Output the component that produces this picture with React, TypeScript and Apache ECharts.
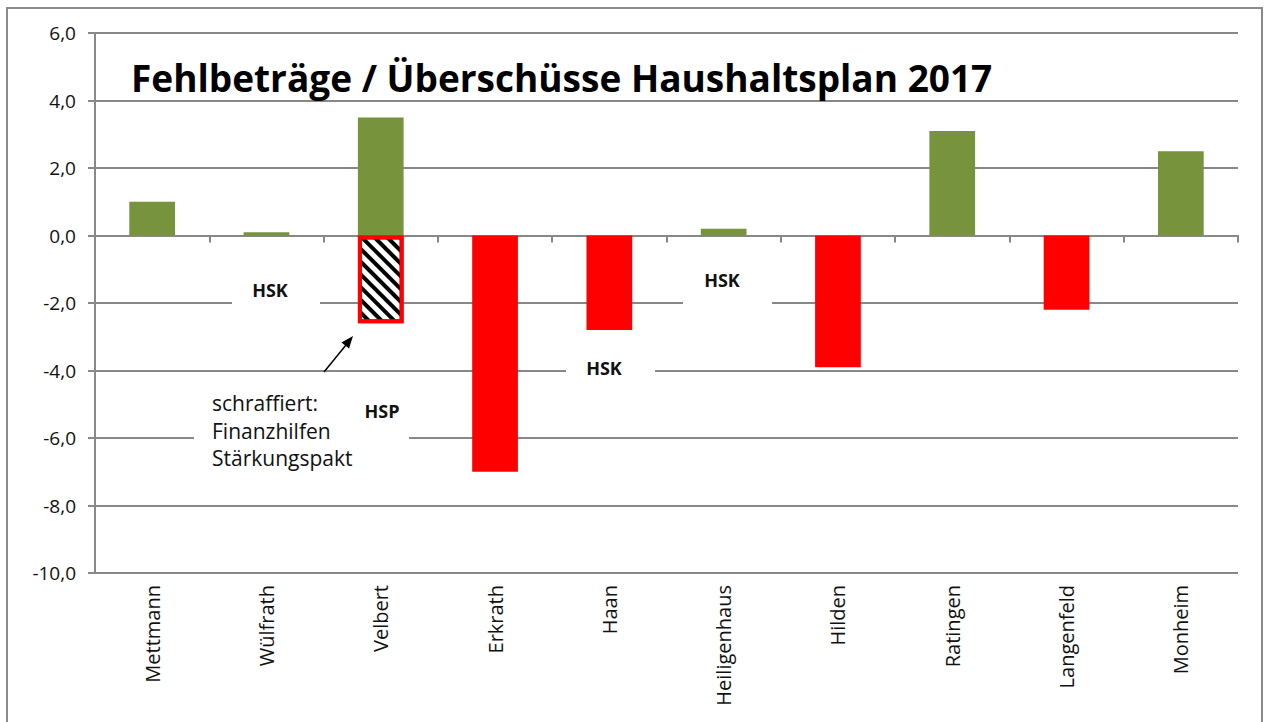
import React, { useEffect, useRef } from 'react';
import * as echarts from 'echarts';

const categories = ['Mettmann', 'Wülfrath', 'Velbert', 'Erkrath', 'Haan', 'Heiligenhaus', 'Hilden', 'Ratingen', 'Langenfeld', 'Monheim'];
const surplus = [1.0, 0.1, 3.5, null, null, 0.2, null, 3.1, null, 2.5];
const deficit = [null, null, null, -7.0, -2.8, null, -3.9, null, -2.2, null];
const hspDeficit = [null, null, -2.6, null, null, null, null, null, null, null];
const yMin = -10;
const yMax = 6;
const yInterval = 2;
const titleText = 'Fehlbeträge / Überschüsse Haushaltsplan 2017';
const noteLines = ['schraffiert:', 'Finanzhilfen', 'Stärkungspakt'];

const GRAY = '#888888';
const FONT = '"Open Sans"';

export default function App() {
  const ref = useRef<HTMLDivElement>(null);
  useEffect(() => {
    const chart = echarts.init(ref.current!, null, { renderer: 'svg' });
    const labelBox = (x: number, y: number, w: number, h: number) => ({
      type: 'rect', shape: { x, y, width: w, height: h }, style: { fill: '#fff' }, z: 10,
    });
    const boldText = (text: string, x: number, y: number) => ({
      type: 'text', x, y, z: 11,
      style: { text, fill: '#111', font: `bold 18px ${FONT}`, align: 'center', verticalAlign: 'middle' },
    });
    chart.setOption({
      animation: false,
      backgroundColor: '#fff',
      grid: { left: 95, right: 28, top: 33, bottom: 149, containLabel: false },
      xAxis: [
        {
          type: 'category', data: categories, position: 'bottom',
          axisLine: { onZero: true, lineStyle: { color: GRAY, width: 2 } },
          axisTick: { show: true, length: 7, lineStyle: { color: GRAY, width: 2 } },
          axisLabel: { show: false },
        },
        {
          type: 'category', data: categories, position: 'bottom',
          axisLine: { show: false, onZero: false },
          axisTick: { show: false },
          axisLabel: { rotate: 90, margin: 12, color: '#111', fontFamily: FONT, fontSize: 20, interval: 0 },
        },
      ],
      yAxis: {
        type: 'value', min: yMin, max: yMax, interval: yInterval,
        axisLine: { show: true, lineStyle: { color: GRAY, width: 2 } },
        axisTick: { show: true, length: 7, lineStyle: { color: GRAY, width: 2 } },
        axisLabel: {
          margin: 19, color: '#111', fontFamily: FONT, fontSize: 19,
          formatter: (v: number) => v.toFixed(1).replace('.', ','),
        },
        splitLine: { show: true, lineStyle: { color: GRAY, width: 2 } },
      },
      series: [
        {
          type: 'bar', data: surplus, barWidth: '40%', barGap: '-100%',
          itemStyle: { color: '#77933C' },
        },
        {
          type: 'bar', data: deficit, barWidth: '40%', barGap: '-100%',
          itemStyle: { color: '#FF0000' },
        },
        {
          type: 'bar', data: hspDeficit, barWidth: '40%', barGap: '-100%',
          itemStyle: {
            color: '#ffffff', borderColor: '#FF0000', borderWidth: 4,
            decal: {
              symbol: 'rect', symbolSize: 1, color: '#000000', backgroundColor: '#ffffff',
              dashArrayX: [1, 0], dashArrayY: [4, 5], rotation: Math.PI / 4,
            },
          },
        },
      ],
      graphic: [
        {
          type: 'rect', shape: { x: 7, y: 8, width: 1255, height: 730 },
          style: { fill: 'none', stroke: '#8a8a8a', lineWidth: 2 }, z: 20, silent: true,
        },
        {
          type: 'text', x: 131, y: 77, z: 11,
          style: { text: titleText, fill: '#000', font: `bold 37px ${FONT}`, verticalAlign: 'middle' },
        },
        labelBox(232, 272, 88, 40),
        boldText('HSK', 270, 290),
        labelBox(683, 262, 89, 48),
        boldText('HSK', 722, 280),
        labelBox(566, 352, 89, 36),
        boldText('HSK', 604, 368),
        labelBox(194, 386, 215, 84),
        boldText('HSP', 382, 411),
        ...noteLines.map((t, i) => ({
          type: 'text', x: 212, y: 403 + i * 27.5, z: 11,
          style: { text: t, fill: '#111', font: `21px ${FONT}`, verticalAlign: 'middle' },
        })),
        {
          type: 'line', z: 12, shape: { x1: 324, y1: 372, x2: 346, y2: 345 },
          style: { stroke: '#000', lineWidth: 1.5 },
        },
        {
          type: 'polygon', z: 12,
          shape: { points: [[353, 336], [349, 348.5], [341.5, 342.5]] },
          style: { fill: '#000' },
        },
      ],
    });
    return () => chart.dispose();
  }, []);
  return <div ref={ref} style={{ position: 'fixed', left: 0, top: 0, width: 1266, height: 722 }} />;
}
